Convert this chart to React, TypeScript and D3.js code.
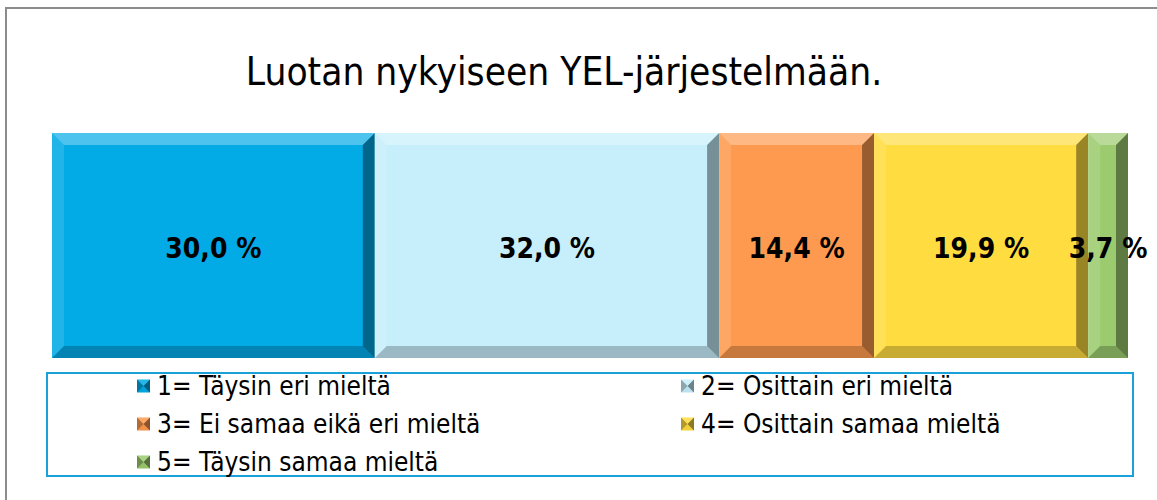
import React from "react";
import * as d3 from "d3";

const categories = [
  "1= Täysin eri mieltä",
  "2= Osittain eri mieltä",
  "3= Ei samaa eikä eri mieltä",
  "4= Osittain samaa mieltä",
  "5= Täysin samaa mieltä",
];
const values = [30.0, 32.0, 14.4, 19.9, 3.7];
const colors = ["#02aae6", "#c6eefb", "#fe9a4f", "#ffdc40", "#9ccb6f"];
const title = "Luotan nykyiseen YEL-järjestelmään.";

const W = 1157;
const H = 500;
const FONT = "'DejaVu Sans Condensed', 'DejaVu Sans', sans-serif";

function Bevel({ x0, x1, y0, y1, color, b, marker }: any) {
  const w = x1 - x0;
  const h = y1 - y0;
  const bb = Math.min(b, w / 2, h / 2);
  const top = `${x0},${y0} ${x1},${y0} ${x1 - bb},${y0 + bb} ${x0 + bb},${y0 + bb}`;
  const bottom = `${x0},${y1} ${x1},${y1} ${x1 - bb},${y1 - bb} ${x0 + bb},${y1 - bb}`;
  const left = `${x0},${y0} ${x0 + bb},${y0 + bb} ${x0 + bb},${y1 - bb} ${x0},${y1}`;
  const right = `${x1},${y0} ${x1 - bb},${y0 + bb} ${x1 - bb},${y1 - bb} ${x1},${y1}`;
  const op = marker
    ? { top: 0.15, left: 0.3, right: 0.45, bottom: 0.05 }
    : { top: 0.3, left: 0.12, right: 0.4, bottom: 0.22 };
  return (
    <g>
      <rect x={x0} y={y0} width={w} height={h} fill={color} />
      <polygon points={top} fill="#ffffff" opacity={op.top} />
      <polygon points={left} fill={marker ? "#000000" : "#ffffff"} opacity={op.left} />
      <polygon points={right} fill="#000000" opacity={op.right} />
      <polygon points={bottom} fill="#000000" opacity={op.bottom} />
    </g>
  );
}

export default function App() {
  const x = d3.scaleLinear().domain([0, d3.sum(values)]).range([52, 1128]);
  const y0 = 133;
  const y1 = 358;
  let acc = 0;
  const segs = values.map((v, i) => {
    const s = { x0: x(acc), x1: x(acc + v), v, i };
    acc += v;
    return s;
  });
  const fmt = (v: number) => v.toFixed(1).replace(".", ",") + " %";
  const legendPos = [
    [137, 386],
    [681, 386],
    [137, 424],
    [681, 424],
    [137, 462],
  ];
  return (
    <svg
      width={W}
      height={H}
      style={{ position: "absolute", left: 0, top: 0, background: "#fff" }}
      fontFamily={FONT}
    >
      <rect x={0} y={0} width={W} height={H} fill="#fff" />
      <rect x={6} y={8} width={1200} height={600} fill="none" stroke="#8c8c8c" strokeWidth={2} />
      <text x={564} y={85} textAnchor="middle" fontSize={38.5} fill="#000" style={{ fontStretch: "condensed" }}>
        {title}
      </text>
      {segs.map((s) => (
        <Bevel key={s.i} x0={s.x0} x1={s.x1} y0={y0} y1={y1} color={colors[s.i]} b={12} />
      ))}
      {segs.map((s) => (
        <text
          key={"l" + s.i}
          x={(s.x0 + s.x1) / 2}
          y={(y0 + y1) / 2 + 2}
          dy="0.36em"
          textAnchor="middle"
          fontWeight="bold"
          fontSize={28}
          fill="#000"
          style={{ fontStretch: "condensed" }}
        >
          {fmt(s.v)}
        </text>
      ))}
      <rect x={47} y={373} width={1086} height={103} fill="none" stroke="#1ba1d9" strokeWidth={2} />
      {categories.map((c, i) => {
        const [lx, ly] = legendPos[i];
        return (
          <g key={"g" + i}>
            <Bevel x0={lx} x1={lx + 13} y0={ly - 6.5} y1={ly + 6.5} color={colors[i]} b={6.5} marker />
            <text x={lx + 20} y={ly} dy="0.36em" fontSize={26} fill="#000" style={{ fontStretch: "condensed" }}>
              {c}
            </text>
          </g>
        );
      })}
    </svg>
  );
}
